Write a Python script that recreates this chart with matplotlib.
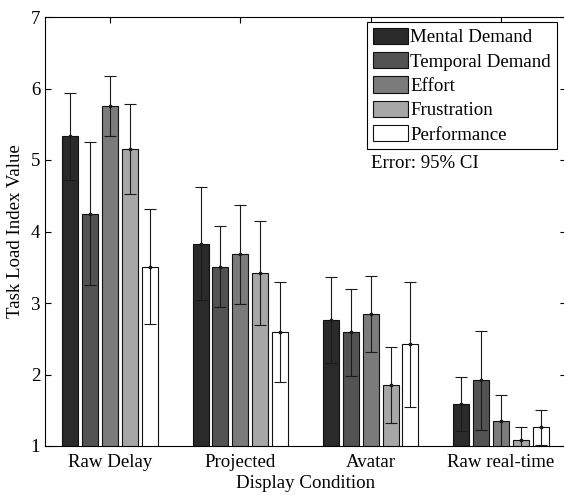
import numpy as np
import matplotlib
matplotlib.use('Agg')
import matplotlib.pyplot as plt

conditions = ['Raw Delay', 'Projected', 'Avatar', 'Raw real-time']
measures = ['Mental Demand', 'Temporal Demand', 'Effort', 'Frustration', 'Performance']

mental = [5.33, 3.83, 2.76, 1.59]
temporal = [4.25, 3.51, 2.59, 1.92]
effort = [5.75, 3.68, 2.85, 1.35]
frustration = [5.16, 3.42, 1.85, 1.09]
performance = [3.51, 2.59, 2.42, 1.26]

mental_ci = [0.61, 0.79, 0.60, 0.38]
temporal_ci = [1.00, 0.56, 0.61, 0.69]
effort_ci = [0.42, 0.69, 0.53, 0.36]
frustration_ci = [0.63, 0.73, 0.53, 0.17]
performance_ci = [0.81, 0.70, 0.88, 0.25]

values = [mental, temporal, effort, frustration, performance]
errors = [mental_ci, temporal_ci, effort_ci, frustration_ci, performance_ci]
colors = ['#2a2a2a', '#535353', '#7b7b7b', '#a7a7a7', '#ffffff']

plt.rcParams['font.family'] = ['Liberation Serif', 'DejaVu Serif']
fs = 13.6

fig = plt.figure(figsize=(5.64, 4.95), dpi=100)
ax = fig.add_axes([45/564, 49/495, 521/564, 429/495])

x = np.arange(1, len(conditions) + 1)
pitch = 0.153
width = 0.123
for i in range(len(measures)):
    pos = x + (i - 2) * pitch
    ax.bar(pos, values[i], width, bottom=0, color=colors[i], edgecolor='#111111',
           linewidth=0.8, label=measures[i], zorder=2)
    ax.errorbar(pos, values[i], yerr=errors[i], fmt='s', ms=2, color='#1a1a1a',
                ecolor='#1a1a1a', elinewidth=0.8, capsize=4, capthick=0.8, zorder=3)

ax.set_xlim(0.5, 4.5)
ax.set_ylim(1, 7)
ax.set_xticks(x)
ax.set_xticklabels(conditions, fontsize=fs)
ax.set_yticks([1, 2, 3, 4, 5, 6, 7])
ax.tick_params(axis='y', labelsize=fs)
ax.tick_params(direction='in', top=True, right=True, length=4, width=0.8)
ax.tick_params(axis='x', pad=6)
for s in ax.spines.values():
    s.set_linewidth(0.8)

ax.set_ylabel('Task Load Index Value', fontsize=fs, labelpad=5)
ax.set_xlabel('Display Condition', fontsize=fs, labelpad=3)

leg = ax.legend(loc='upper left', bbox_to_anchor=(367/564, 1 - 22/495),
                bbox_transform=fig.transFigure, borderaxespad=0, fontsize=fs,
                handlelength=1.87, handleheight=0.95, handletextpad=0.12,
                labelspacing=0.3, borderpad=0.3, fancybox=False, framealpha=1)
leg.get_frame().set_edgecolor('black')
leg.get_frame().set_linewidth(0.8)

fig.text(371/564, 1 - 163/495, 'Error: 95% CI', fontsize=fs, va='center', ha='left')

fig.savefig('out.png', dpi=100)
